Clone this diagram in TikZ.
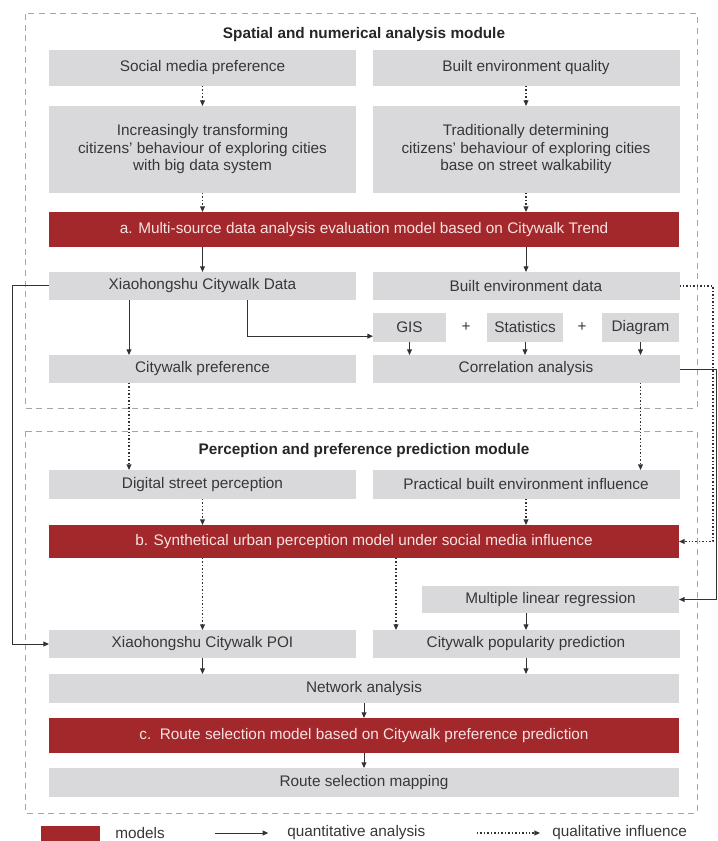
\documentclass[tikz,border=0pt]{standalone}
\usepackage{fontspec}
\setmainfont{Liberation Sans}
\usepackage{xcolor}
\usetikzlibrary{arrows.meta}
\definecolor{boxCol}{RGB}{217,217,219}
\definecolor{modCol}{RGB}{163,40,44}
\definecolor{modTxt}{RGB}{247,226,226}
\definecolor{txtCol}{RGB}{55,55,55}
\definecolor{lineCol}{RGB}{50,50,50}
\definecolor{frameCol}{RGB}{165,165,165}
\newcommand{\Tsz}{\fontsize{11.5}{13.1}\selectfont}
\tikzset{
  gbox/.style={fill=boxCol, text=txtCol, font=\Tsz, align=center,
               inner sep=0pt, outer sep=0pt, minimum height=21pt},
  half/.style={gbox, minimum width=230.25pt},
  full/.style={gbox, minimum width=472.5pt},
  model/.style={fill=modCol, text=modTxt, font=\Tsz, inner sep=0pt, outer sep=0pt,
                minimum width=472.5pt, minimum height=26.25pt},
  ttl/.style={font=\Tsz\bfseries, text=black!85, inner sep=0pt},
  qnt/.style={-{Triangle[length=4.2pt,width=3.6pt]}, line width=0.75pt, lineCol},
  qlt/.style={qnt, line width=0.9pt, dash pattern=on 1.1pt off 1.5pt},
  frame/.style={draw=frameCol, line width=0.75pt, dash pattern=on 4.5pt off 3.5pt},
}

\begin{document}
\begin{tikzpicture}[x=0.75pt,y=-0.75pt]
  \useasboundingbox (0,0) rectangle (717,841);

  % module frames
  \draw[frame] (25,14) rectangle (697,408);
  \draw[frame] (25,431) rectangle (697,813);
  \node[ttl] (titleA) at (364,35) {Spatial and numerical analysis module};
  \node[ttl] (titleB) at (364,451) {Perception and preference prediction module};

  % rails for the bent connectors
  \coordinate (leftRail) at (12,0);
  \coordinate (xPref) at (129,0);
  \coordinate (xBend) at (247,0);
  \coordinate (xMid) at (396,0);
  \coordinate (dotRail) at (713,0);
  \coordinate (edgeRail) at (716,0);

  % spatial and numerical analysis module
  \node[half, minimum height=27pt] (smPref) at (202.5,68) {Social media preference};
  \node[half, minimum height=27pt] (beQual) at (526,68) {Built environment quality};
  \node[half, minimum height=65.25pt] (incTrans) at (202.5,149.5)
    {Increasingly transforming\\ citizens' behaviour of exploring cities\\ with big data system};
  \node[half, minimum height=65.25pt] (tradDet) at (526,149.5)
    {Traditionally determining\\ citizens' behaviour of exploring cities\\ base on street walkability};
  \node[model] (modA) at (364,229.5)
    {a. Multi-source data analysis evaluation model based on Citywalk Trend};
  \node[half] (xhsData) at (202.5,286) {Xiaohongshu Citywalk Data};
  \node[half] (beData) at (526,286) {Built environment data};
  \node[gbox, minimum width=54.75pt, minimum height=21.75pt] (gis) at (409.5,327.5) {GIS};
  \node[gbox, minimum width=57pt, minimum height=21.75pt] (stats) at (525,327.5) {Statistics};
  \node[gbox, minimum width=57.75pt, minimum height=21.75pt] (diag) at (640.5,327.5) {Diagram};
  \node[text=txtCol, font=\Tsz, inner sep=0pt] (plusA) at (466,327.5) {+};
  \node[text=txtCol, font=\Tsz, inner sep=0pt] (plusB) at (582,327.5) {+};
  \node[half] (cwPref) at (202.5,369) {Citywalk preference};
  \node[half] (corr) at (526,369) {Correlation analysis};

  % perception and preference prediction module
  \node[half, minimum height=21.75pt] (dsPerc) at (202.5,484.5) {Digital street perception};
  \node[half, minimum height=21.75pt] (pbeInfl) at (526,484.5) {Practical built environment influence};
  \node[model, minimum height=24.75pt] (modB) at (364,541.5)
    {b. Synthetical urban perception model under social media influence};
  \node[gbox, minimum width=192.75pt, minimum height=20.25pt] (mlr) at (550.5,599.5)
    {Multiple linear regression};
  \node[half] (xhsPoi) at (202.5,644) {Xiaohongshu Citywalk POI};
  \node[half] (cwPop) at (526,644) {Citywalk popularity prediction};
  \node[full, minimum height=21.75pt] (netAn) at (364,688.5) {Network analysis};
  \node[model] (modC) at (364,735.5)
    {c.\ \ Route selection model based on Citywalk preference prediction};
  \node[full, minimum height=21.75pt] (routeMap) at (364,782.5) {Route selection mapping};

  % connectors, first module
  \draw[qlt] (smPref) -- (incTrans);
  \draw[qlt] (beQual) -- (tradDet);
  \draw[qlt] (incTrans.south) -- (incTrans.south |- modA.north);
  \draw[qlt] (tradDet.south) -- (tradDet.south |- modA.north);
  \draw[qnt] (xhsData.north |- modA.south) -- (xhsData.north);
  \draw[qnt] (beData.north |- modA.south) -- (beData.north);
  \draw[qnt] (xPref |- xhsData.south) -- (xPref |- cwPref.north);
  \draw[qnt] (xBend |- xhsData.south) |- ([yshift=-6.5pt]gis.west);
  \draw[qnt] (gis.south) -- (gis.south |- corr.north);
  \draw[qnt] (stats.south) -- (stats.south |- corr.north);
  \draw[qnt] (diag.south) -- (diag.south |- corr.north);

  % connectors between the modules
  \draw[qlt] (xPref |- cwPref.south) -- (xPref |- dsPerc.north);
  \draw[qlt] (diag.south |- corr.south) -- (diag.south |- pbeInfl.north);
  \draw[qnt] (xhsData.west) -- (xhsData.west -| leftRail) |- (xhsPoi.west);
  \draw[qlt] (beData.east) -- (beData.east -| dotRail) |- (modB.east);
  \draw[qnt] (corr.east) -- (corr.east -| edgeRail) |- (mlr.east);

  % connectors, second module
  \draw[qlt] (dsPerc.south) -- (dsPerc.south |- modB.north);
  \draw[qlt] (pbeInfl.south) -- (pbeInfl.south |- modB.north);
  \draw[qlt] (xhsPoi.north |- modB.south) -- (xhsPoi.north);
  \draw[qlt] (xMid |- modB.south) -- (xMid |- cwPop.north);
  \draw[qnt] (cwPop.north |- mlr.south) -- (cwPop.north);
  \draw[qnt] (xhsPoi.south) -- (xhsPoi.south |- netAn.north);
  \draw[qnt] (cwPop.south) -- (cwPop.south |- netAn.north);
  \draw[qnt] (netAn) -- (modC);
  \draw[qnt] (modC) -- (routeMap);

  % legend
  \node[fill=modCol, minimum width=44.25pt, minimum height=15pt, inner sep=0pt] (legMod) at (70.5,836) {};
  \node[font=\Tsz, text=txtCol, anchor=west, inner sep=0pt] (legModTxt) at (115,833) {models};
  \node[font=\Tsz, text=txtCol, anchor=west, inner sep=0pt] (legQnt) at (287,833) {quantitative analysis};
  \node[font=\Tsz, text=txtCol, anchor=west, inner sep=0pt] (legQlt) at (552,833) {qualitative influence};
  \coordinate (legQntFrom) at (215,833);
  \coordinate (legQltFrom) at (477,833);
  \draw[qnt] (legQntFrom) -- ([xshift=-14pt]legQnt.west);
  \draw[qlt] (legQltFrom) -- ([xshift=-9pt]legQlt.west);
\end{tikzpicture}
\end{document}
